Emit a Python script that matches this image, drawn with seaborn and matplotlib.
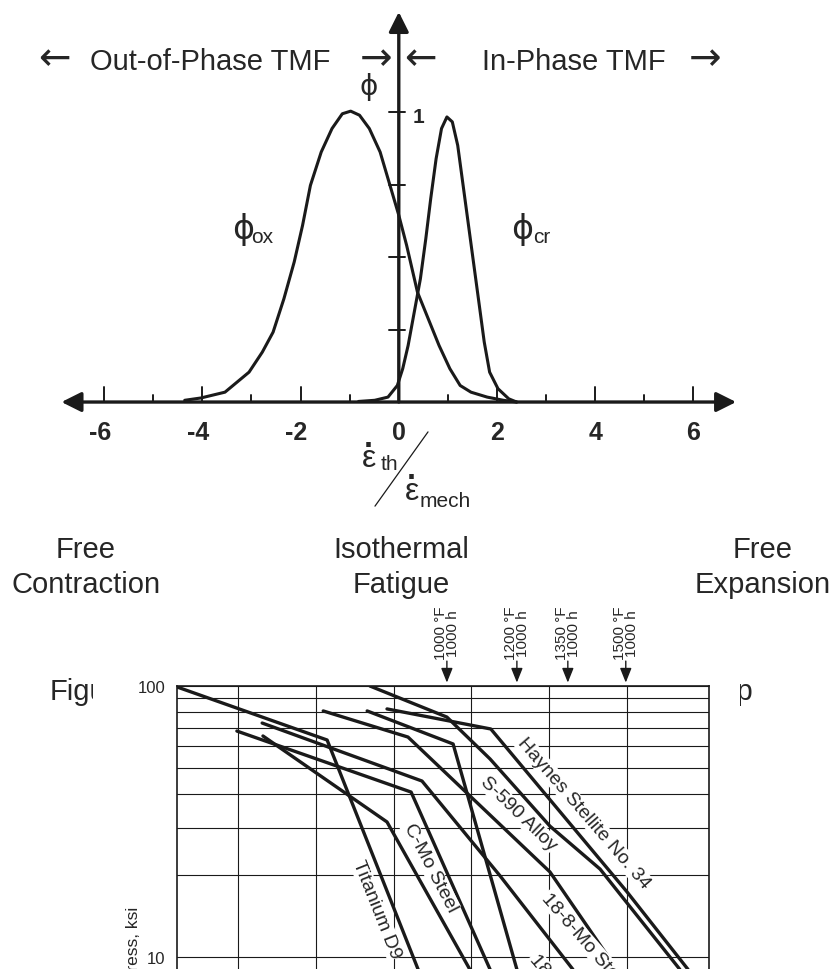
import numpy as np
import pandas as pd
import seaborn as sns
import matplotlib.pyplot as plt
from matplotlib.patches import Rectangle
from matplotlib.ticker import FixedLocator, NullFormatter

sns.set_theme(style='white')
plt.rcParams['font.family'] = ['Liberation Sans', 'DejaVu Sans']

# ---- top diagram: damage weighting vs strain-rate ratio ----
ox_x = [-4.36, -4.03, -3.54, -3.05, -2.78, -2.56, -2.34, -2.13, -1.96, -1.80, -1.58,
        -1.36, -1.15, -0.98, -0.80, -0.60, -0.38, -0.16, 0.0, 0.16, 0.38, 0.60, 0.82,
        1.04, 1.25, 1.47, 1.80, 2.13, 2.40]
ox_y = [0.006, 0.014, 0.034, 0.103, 0.172, 0.241, 0.356, 0.483, 0.609, 0.747, 0.862,
        0.943, 0.994, 1.003, 0.989, 0.943, 0.862, 0.736, 0.644, 0.540, 0.379, 0.287, 0.195,
        0.115, 0.057, 0.034, 0.017, 0.006, 0.0]
cr_x = [-0.82, -0.49, -0.22, -0.03, 0.08, 0.19, 0.29, 0.44, 0.55, 0.65, 0.76, 0.87,
        0.98, 1.09, 1.20, 1.31, 1.42, 1.53, 1.64, 1.74, 1.85, 2.02, 2.24, 2.40]
cr_y = [0.002, 0.006, 0.017, 0.057, 0.115, 0.195, 0.287, 0.425, 0.563, 0.701, 0.839, 0.943,
        0.983, 0.966, 0.885, 0.747, 0.609, 0.471, 0.333, 0.207, 0.103, 0.046, 0.011, 0.0]
tick_x = [-6, -5, -4, -3, -2, -1, 1, 2, 3, 4, 5, 6]
label_x = [-6, -4, -2, 0, 2, 4, 6]
tick_y = [0.25, 0.5, 0.75, 1.0]

# ---- bottom chart: stress vs Larson-Miller parameter (ksi) ----
alloys = ['Titanium D9', 'C-Mo Steel', 'line 3', '18-8-Mo Steel', 'line 5',
          'line 6', 'S-590 Alloy', 'Haynes Stellite No. 34']
lmp = [[24.43, 28.29, 30.63],
       [26.64, 29.83, 31.96],
       [25.97, 30.45, 32.48],
       [26.62, 30.73, 32.74, 34.61],
       [28.19, 30.37, 34.02, 35.74],
       [29.32, 31.53, 33.17],
       [29.39, 31.37, 32.48, 34.02, 35.31, 37.36],
       [29.83, 32.50, 34.87, 36.00, 37.57]]
stress = [[99.2, 63.2, 9.0],
          [65.4, 31.5, 9.0],
          [68.2, 40.6, 9.0],
          [73.0, 44.6, 19.9, 9.0],
          [80.9, 64.8, 20.6, 9.0],
          [80.9, 61.1, 9.0],
          [100, 76.8, 53.8, 30.4, 21.1, 9.0],
          [82.3, 69.4, 27.2, 17.4, 9.0]]
temp_x = [31.37, 33.17, 34.48, 35.97]
temp_labels = ['1000 °F\n1000 h', '1200 °F\n1000 h', '1350 °F\n1000 h', '1500 °F\n1000 h']
grid_x = [26, 28, 30, 32, 34, 36]
grid_y = [20, 30, 40, 50, 60, 70, 80, 90]

fig = plt.figure(figsize=(8.35, 9.70), dpi=100)

ax = fig.add_axes([0, 0, 1, 1], zorder=0)
ax.set_xlim(-8.122, 8.884)
ax.set_ylim(-1.955, 1.3897)
ax.axis('off')

curves = pd.concat([pd.DataFrame({'x': ox_x, 'y': ox_y, 'c': 'ox'}),
                    pd.DataFrame({'x': cr_x, 'y': cr_y, 'c': 'cr'})])
for name, d in curves.groupby('c'):
    sns.lineplot(data=d, x='x', y='y', ax=ax, color='k', lw=2.2, sort=False,
                 estimator=None)
ax.set_xlabel('')
ax.set_ylabel('')

arrow_kw = dict(arrowstyle='<|-|>', color='k', lw=2.4, mutation_scale=30,
                shrinkA=0, shrinkB=0)
ax.annotate('', xy=(6.87, 0), xytext=(-6.87, 0), arrowprops=arrow_kw)
ax.annotate('', xy=(0, 1.345), xytext=(0, 0),
            arrowprops=dict(arrow_kw, arrowstyle='-|>'))
for v in tick_x:
    h = 0.052 if v % 2 == 0 else 0.024
    ax.plot([v, v], [0, h], color='k', lw=1.4)
for v in tick_y:
    ax.plot([-0.2, 0.13], [v, v], color='k', lw=1.4)
for v in label_x:
    ax.text(v + 0.142, -0.128, str(v), ha='right', va='baseline',
            fontsize=18, fontweight='bold')
ax.text(0.40, 0.983, '1', ha='center', va='center', fontsize=15, fontweight='bold')

hdr = 1.148
arr = dict(ha='center', va='baseline', fontsize=28, family=['DejaVu Sans'])
ax.text(-7.01, hdr, '←', **arr)
ax.text(-3.84, hdr, 'Out-of-Phase TMF', ha='center', va='baseline', fontsize=21)
ax.text(-0.464, hdr, '→', **arr)
ax.text(0.432, hdr, '←', **arr)
ax.text(3.568, hdr, 'In-Phase TMF', ha='center', va='baseline', fontsize=21)
ax.text(6.24, hdr, '→', **arr)

phi = dict(ha='center', va='center', family=['DejaVu Sans'])
ax.text(-0.607, 1.090, 'ϕ', fontsize=20, **phi)
ax.text(-3.17, 0.597, 'ϕ', fontsize=24, **phi)
ax.text(-3.00, 0.552, 'ox', ha='left', va='baseline', fontsize=15)
ax.text(2.51, 0.597, 'ϕ', fontsize=24, **phi)
ax.text(2.73, 0.552, 'cr', ha='left', va='baseline', fontsize=15)

# strain-rate ratio label
ax.text(-0.607, -0.221, 'ε', ha='center', va='baseline', fontsize=23)
ax.text(-0.607, -0.150, '·', ha='center', va='center', fontsize=23, fontweight='bold')
ax.text(-0.37, -0.232, 'th', ha='left', va='baseline', fontsize=15)
ax.plot([0.595, -0.485], [-0.103, -0.359], color='k', lw=0.9)
ax.text(0.269, -0.334, 'ε', ha='center', va='baseline', fontsize=23)
ax.text(0.269, -0.263, '·', ha='center', va='center', fontsize=23, fontweight='bold')
ax.text(0.43, -0.359, 'mech', ha='left', va='baseline', fontsize=15)

for xc, l1, l2 in [(-6.37, 'Free', 'Contraction'), (0.045, 'Isothermal', 'Fatigue'),
                   (7.42, 'Free', 'Expansion')]:
    ax.text(xc, -0.534, l1, ha='center', va='baseline', fontsize=21)
    ax.text(xc, -0.655, l2, ha='center', va='baseline', fontsize=21)

ax.text(-7.104, -1.024, 'Figure', ha='left', va='baseline', fontsize=21)
ax.text(7.214, -1.024, 'Map', ha='right', va='baseline', fontsize=21)

# pasted chart covers the caption
fig.add_artist(Rectangle((93 / 835, 0), (740 - 93) / 835, (970 - 603) / 970,
                         transform=fig.transFigure, facecolor='white',
                         edgecolor='none', zorder=1))

ax2 = fig.add_axes([177 / 835, 0, 532 / 835, 283 / 970], zorder=2)
ax2.set_yscale('log')
for name, xs, ys in zip(alloys, lmp, stress):
    sns.lineplot(x=xs, y=ys, ax=ax2, color='k', lw=2.4, sort=False, estimator=None)
ax2.set_xlim(24.43, 38.11)
ax2.set_ylim(9.03, 100)
ax2.set_xticks(grid_x)
ax2.set_yticks([10, 100])
ax2.set_yticklabels(['10', '100'])
ax2.yaxis.set_minor_locator(FixedLocator(grid_y))
ax2.yaxis.set_minor_formatter(NullFormatter())
ax2.tick_params(which='both', length=0, labelbottom=False, labelsize=12, pad=8.5)
ax2.grid(True, which='both', color='k', lw=0.8)
ax2.set_xlabel('')
ax2.set_ylabel('')
for s in ['top', 'left', 'right']:
    ax2.spines[s].set_color('k')
    ax2.spines[s].set_linewidth(1.2)
ax2.spines['bottom'].set_visible(False)

for xv, lab in zip(temp_x, temp_labels):
    ax2.annotate('', xy=(xv, 1.012), xycoords=('data', 'axes fraction'),
                 xytext=(xv, 1.088), textcoords=('data', 'axes fraction'),
                 arrowprops=dict(arrowstyle='-|>,head_length=0.55,head_width=0.22',
                                 color='k', lw=1.0, mutation_scale=16,
                                 shrinkA=0, shrinkB=0))
    ax2.text(xv, 1.095, lab, transform=ax2.get_xaxis_transform(), rotation=90,
             ha='center', va='bottom', ma='center', fontsize=11, linespacing=0.85)

curve_labels = [('Titanium D9', 29.57, 15.04, -68.3, 'center'),
                ('C-Mo Steel', 30.94, 21.49, -62.6, 'center'),
                ('S-590 Alloy', 33.20, 33.98, -44.0, 'center'),
                ('Haynes Stellite No. 34', 34.88, 34.18, -49.2, 'center'),
                ('18-8-Mo Steel', 33.89, 16.96, -49.0, 'left'),
                ('18-8 Steel', 33.58, 10.09, -50.0, 'left')]
for txt, xv, yv, rot, ha in curve_labels:
    ax2.text(xv, yv, txt, rotation=rot, rotation_mode='anchor', ha=ha, va='center',
             fontsize=14, clip_on=True,
             bbox=dict(facecolor='white', edgecolor='none', pad=0.5))

ax2.text(-0.0827, 0.2226, 'Stress, ksi', transform=ax2.transAxes, rotation=90,
         ha='center', va='top', fontsize=12.5)

fig.savefig('out.png', dpi=100)
